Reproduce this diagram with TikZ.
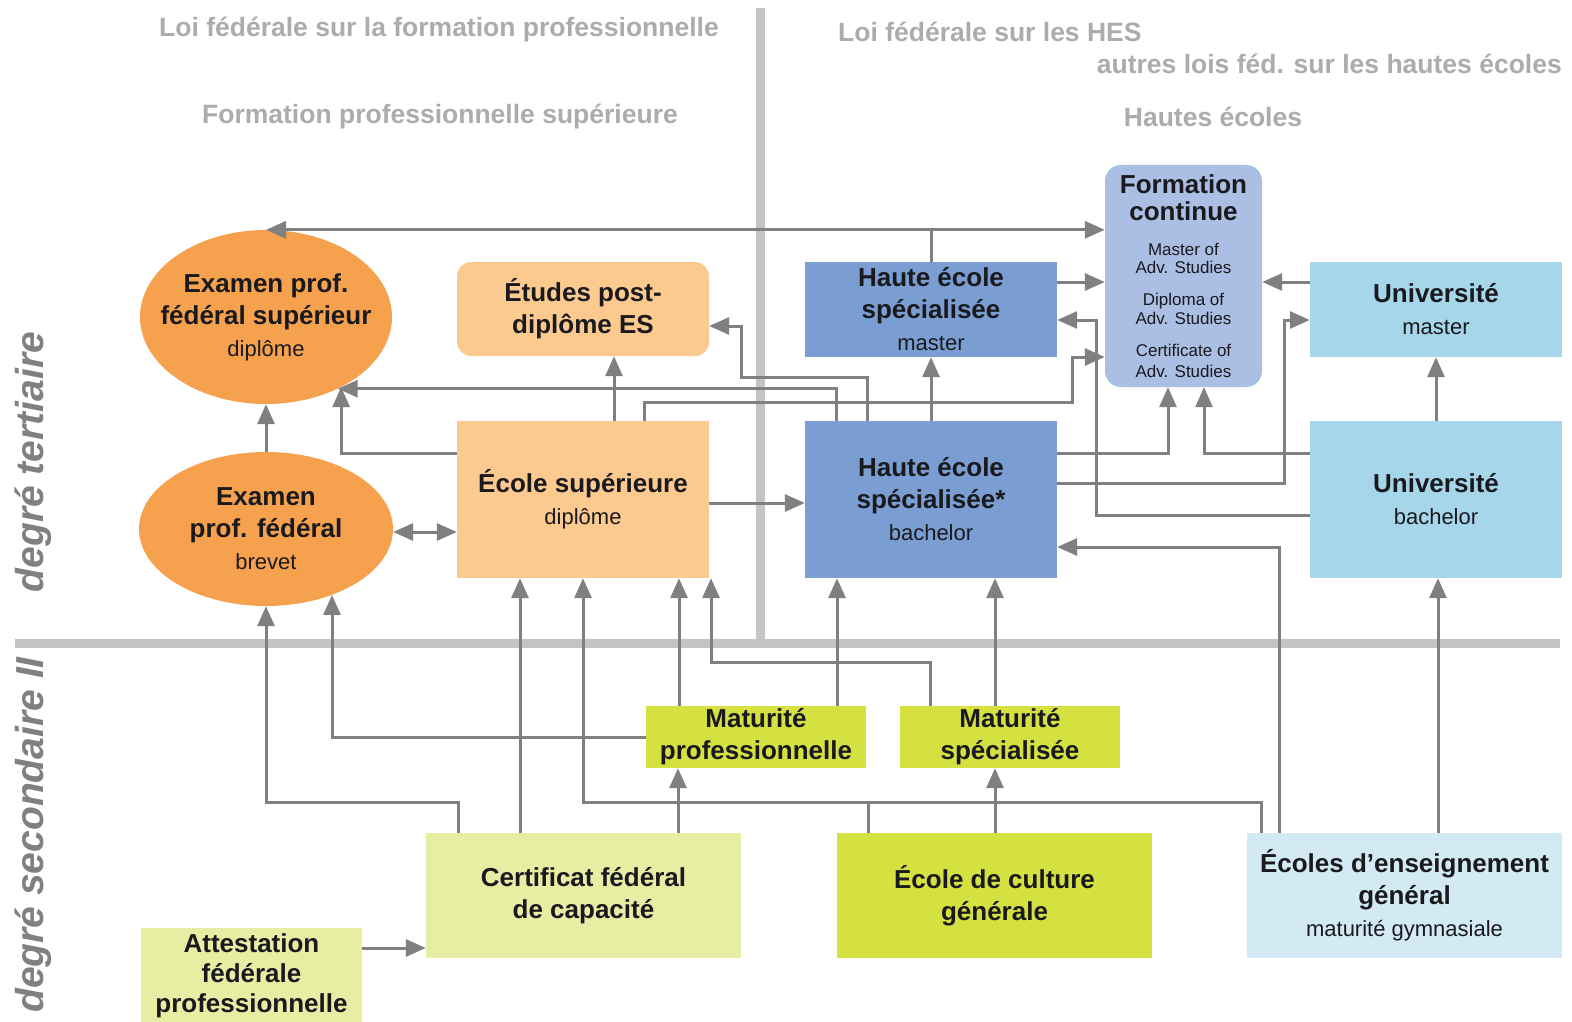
\documentclass[tikz,border=0pt]{standalone}
\usepackage{fontspec}
\setmainfont{Liberation Sans}
\usetikzlibrary{arrows.meta,shapes.geometric}
\definecolor{orangeE}{RGB}{246,161,78}
\definecolor{orangeL}{RGB}{252,201,143}
\definecolor{blueH}{RGB}{123,158,210}
\definecolor{blueFC}{RGB}{170,191,227}
\definecolor{blueU}{RGB}{166,214,234}
\definecolor{blueE}{RGB}{211,234,244}
\definecolor{greenM}{RGB}{213,225,64}
\definecolor{greenP}{RGB}{232,237,164}
\definecolor{sepgray}{RGB}{196,196,196}
\definecolor{arrgray}{RGB}{128,128,128}
\definecolor{headgray}{RGB}{172,172,172}
\definecolor{sidegray}{RGB}{128,128,128}
\definecolor{txt}{RGB}{25,25,30}
\newcommand{\subl}[1]{{\mdseries\fontsize{22}{26}\selectfont #1}}
\begin{document}
\begin{tikzpicture}[x=1pt,y=-1pt,
  blk/.style={rectangle, inner sep=0pt, align=center, text=txt, font=\bfseries\fontsize{26}{32}\selectfont},
  ell/.style={ellipse, inner xsep=-22pt, inner ysep=0pt, align=center, text=txt, fill=orangeE, font=\bfseries\fontsize{26}{32}\selectfont},
  arr/.style={draw=arrgray, line width=3pt, -{Triangle[length=20pt,width=17pt]}},
  darr/.style={draw=arrgray, line width=3pt, {Triangle[length=20pt,width=17pt]}-{Triangle[length=20pt,width=17pt]}},
  plain/.style={draw=arrgray, line width=3pt},
  sep/.style={draw=sepgray, line width=9pt},
  head/.style={text=headgray, font=\bfseries\fontsize{26.5}{30}\selectfont, inner sep=0pt},
  side/.style={text=sidegray, font=\bfseries\itshape\fontsize{39}{44}\selectfont, rotate=90, inner sep=0pt}]
\useasboundingbox (0,0) rectangle (1572,1022);
\fill[white] (0,0) rectangle (1572,1022);

% headers
\node[head] (h1) at (439,30) {Loi fédérale sur la formation professionnelle};
\node[head] (h2) at (440,117) {Formation professionnelle supérieure};
\node[head,anchor=west] (h3) at (838,32) {Loi fédérale sur les HES};
\node[head,anchor=east] (h4) at (1562,64) {autres lois féd. sur les hautes écoles};
\node[head] (h5) at (1213,117) {Hautes écoles};

% separators
\draw[sep] (760,8) -- (760,643);
\draw[sep] (15,643) -- (1560,643);

% side labels
\node[side] (s1) at (33,462) {degré tertiaire};
\node[side] (s2) at (33,835) {degré secondaire II};

% nodes
\node[ell, minimum width=252pt, minimum height=174pt] (epfs) at (266,317) {Examen prof.\\fédéral supérieur\\\subl{diplôme}};
\node[ell, minimum width=254pt, minimum height=154pt] (epf) at (266,529) {Examen\\prof. fédéral\\\subl{brevet}};
\node[blk, fill=orangeL, rounded corners=14pt, minimum width=252pt, minimum height=94pt] (etpd) at (583,309) {Études post-\\diplôme ES};
\node[blk, fill=orangeL, minimum width=252pt, minimum height=157pt] (esup) at (583,499.5) {École supérieure\\\subl{diplôme}};
\node[blk, fill=blueH, minimum width=252pt, minimum height=95pt] (hesm) at (931,309.5) {Haute école\\spécialisée\\\subl{master}};
\node[blk, fill=blueH, minimum width=252pt, minimum height=157pt] (hesb) at (931,499.5) {Haute école\\spécialisée*\\\subl{bachelor}};
\node[blk, fill=blueFC, rounded corners=16pt, minimum width=157pt, minimum height=222pt, font=\mdseries\fontsize{17}{18.5}\selectfont] (fc) at (1183.5,276)
  {{\bfseries\fontsize{26}{26}\selectfont Formation}\\[7.5pt]{\bfseries\fontsize{26}{26}\selectfont continue}\\[16pt]Master of\\Adv. Studies\\[13.5pt]Diploma of\\Adv. Studies\\[13.5pt]Certificate of\\[2.5pt]Adv. Studies};
\node[blk, fill=blueU, minimum width=252pt, minimum height=95pt] (unim) at (1436,309.5) {Université\\\subl{master}};
\node[blk, fill=blueU, minimum width=252pt, minimum height=157pt] (unib) at (1436,499.5) {Université\\\subl{bachelor}};
\node[blk, fill=greenM, minimum width=220pt, minimum height=62pt] (matp) at (756,737) {Maturité\\professionnelle};
\node[blk, fill=greenM, minimum width=220pt, minimum height=62pt] (mats) at (1010,737) {Maturité\\spécialisée};
\node[blk, fill=greenP, minimum width=315pt, minimum height=125pt] (cfc) at (583.5,895.5) {Certificat fédéral\\de capacité};
\node[blk, fill=greenM, minimum width=315pt, minimum height=125pt] (ecg) at (994.5,895.5) {École de culture\\générale};
\node[blk, fill=blueE, minimum width=315pt, minimum height=125pt] (eeg) at (1404.5,895.5) {Écoles d’enseignement\\général\\\subl{maturité gymnasiale}};
\node[blk, fill=greenP, minimum width=221pt, minimum height=96pt, font=\bfseries\fontsize{26}{30}\selectfont] (att) at (251.5,976) {Attestation\\fédérale\\professionnelle};
\fill[greenP] (att.south west) rectangle ([yshift=-12pt]att.south east);

% tertiary connectors
\draw[arr] (hesm.north) |- (epfs.north);
\draw[arr] (hesm.north) |- (fc.west |- epfs.north);
\draw[arr] (hesm.east |- 0,282) -- (fc.west |- 0,282);
\draw[arr] (unim.west |- 0,282) -- (fc.east |- 0,282);
\draw[arr] (unib.north) -- (unim.south);
\draw[arr] (hesb.north) -- (hesm.south);
\draw[arr] (esup.north -| 614,0) -- (etpd.south -| 614,0);
\draw[arr] (epf.north) -- (epfs.south);
\draw[arr] (esup.west |- 0,453) -| (epfs.-43);
\draw[arr] ([xshift=32pt]hesb.north west) |- (epfs.-45);
\draw[arr] ([xshift=63pt]hesb.north west) |- (741,377) |- (etpd.east |- 0,326);
\draw[arr] ([xshift=188pt]esup.north west) |- (1072,402) |- (fc.west |- 0,357);
\draw[arr] (unib.west |- 0,515) -| (1096,320) -- (hesm.east |- 0,320);
\draw[arr] (hesb.east |- 0,483) -| (1284,320) -- (unim.west |- 0,320);
\draw[arr] (hesb.east |- 0,453) -| (fc.south -| 1168,0);
\draw[arr] (unib.west |- 0,453) -| (fc.south -| 1204,0);
\draw[arr] (esup.east |- 0,503) -- (hesb.west |- 0,503);
\draw[darr] (epf.east |- 0,532) -- (esup.west |- 0,532);

% secondary connectors
\draw[arr] ([xshift=33pt]cfc.north west) |- (epf.south |- 0,802) -- (epf.south);
\draw[arr] (matp.west) -| (epf.-45);
\draw[arr] (cfc.north -| 520,0) -- (esup.south -| 520,0);
\draw[arr] ([xshift=15pt]eeg.north west) |- (583,802) -- (esup.south -| 583,0);
\draw[plain] ([xshift=32pt]ecg.north west) -- ++(0,-31);
\draw[arr] (cfc.north -| 678,0) -- (matp.south -| 678,0);
\draw[arr] (matp.north -| 679,0) -- (esup.south -| 679,0);
\draw[arr] (matp.north -| 837,0) -- (hesb.south -| 837,0);
\draw[arr] ([xshift=31pt]mats.north west) |- (711,662) -- (esup.south -| 711,0);
\draw[arr] (mats.north -| 995,0) -- (hesb.south -| 995,0);
\draw[arr] (ecg.north -| 995,0) -- (mats.south -| 995,0);
\draw[arr] ([xshift=33pt]eeg.north west) |- (hesb.east |- 0,547);
\draw[arr] (eeg.north -| 1438,0) -- (unib.south -| 1438,0);
\draw[arr] (att.east |- 0,948) -- (cfc.west |- 0,948);
\end{tikzpicture}
\end{document}
